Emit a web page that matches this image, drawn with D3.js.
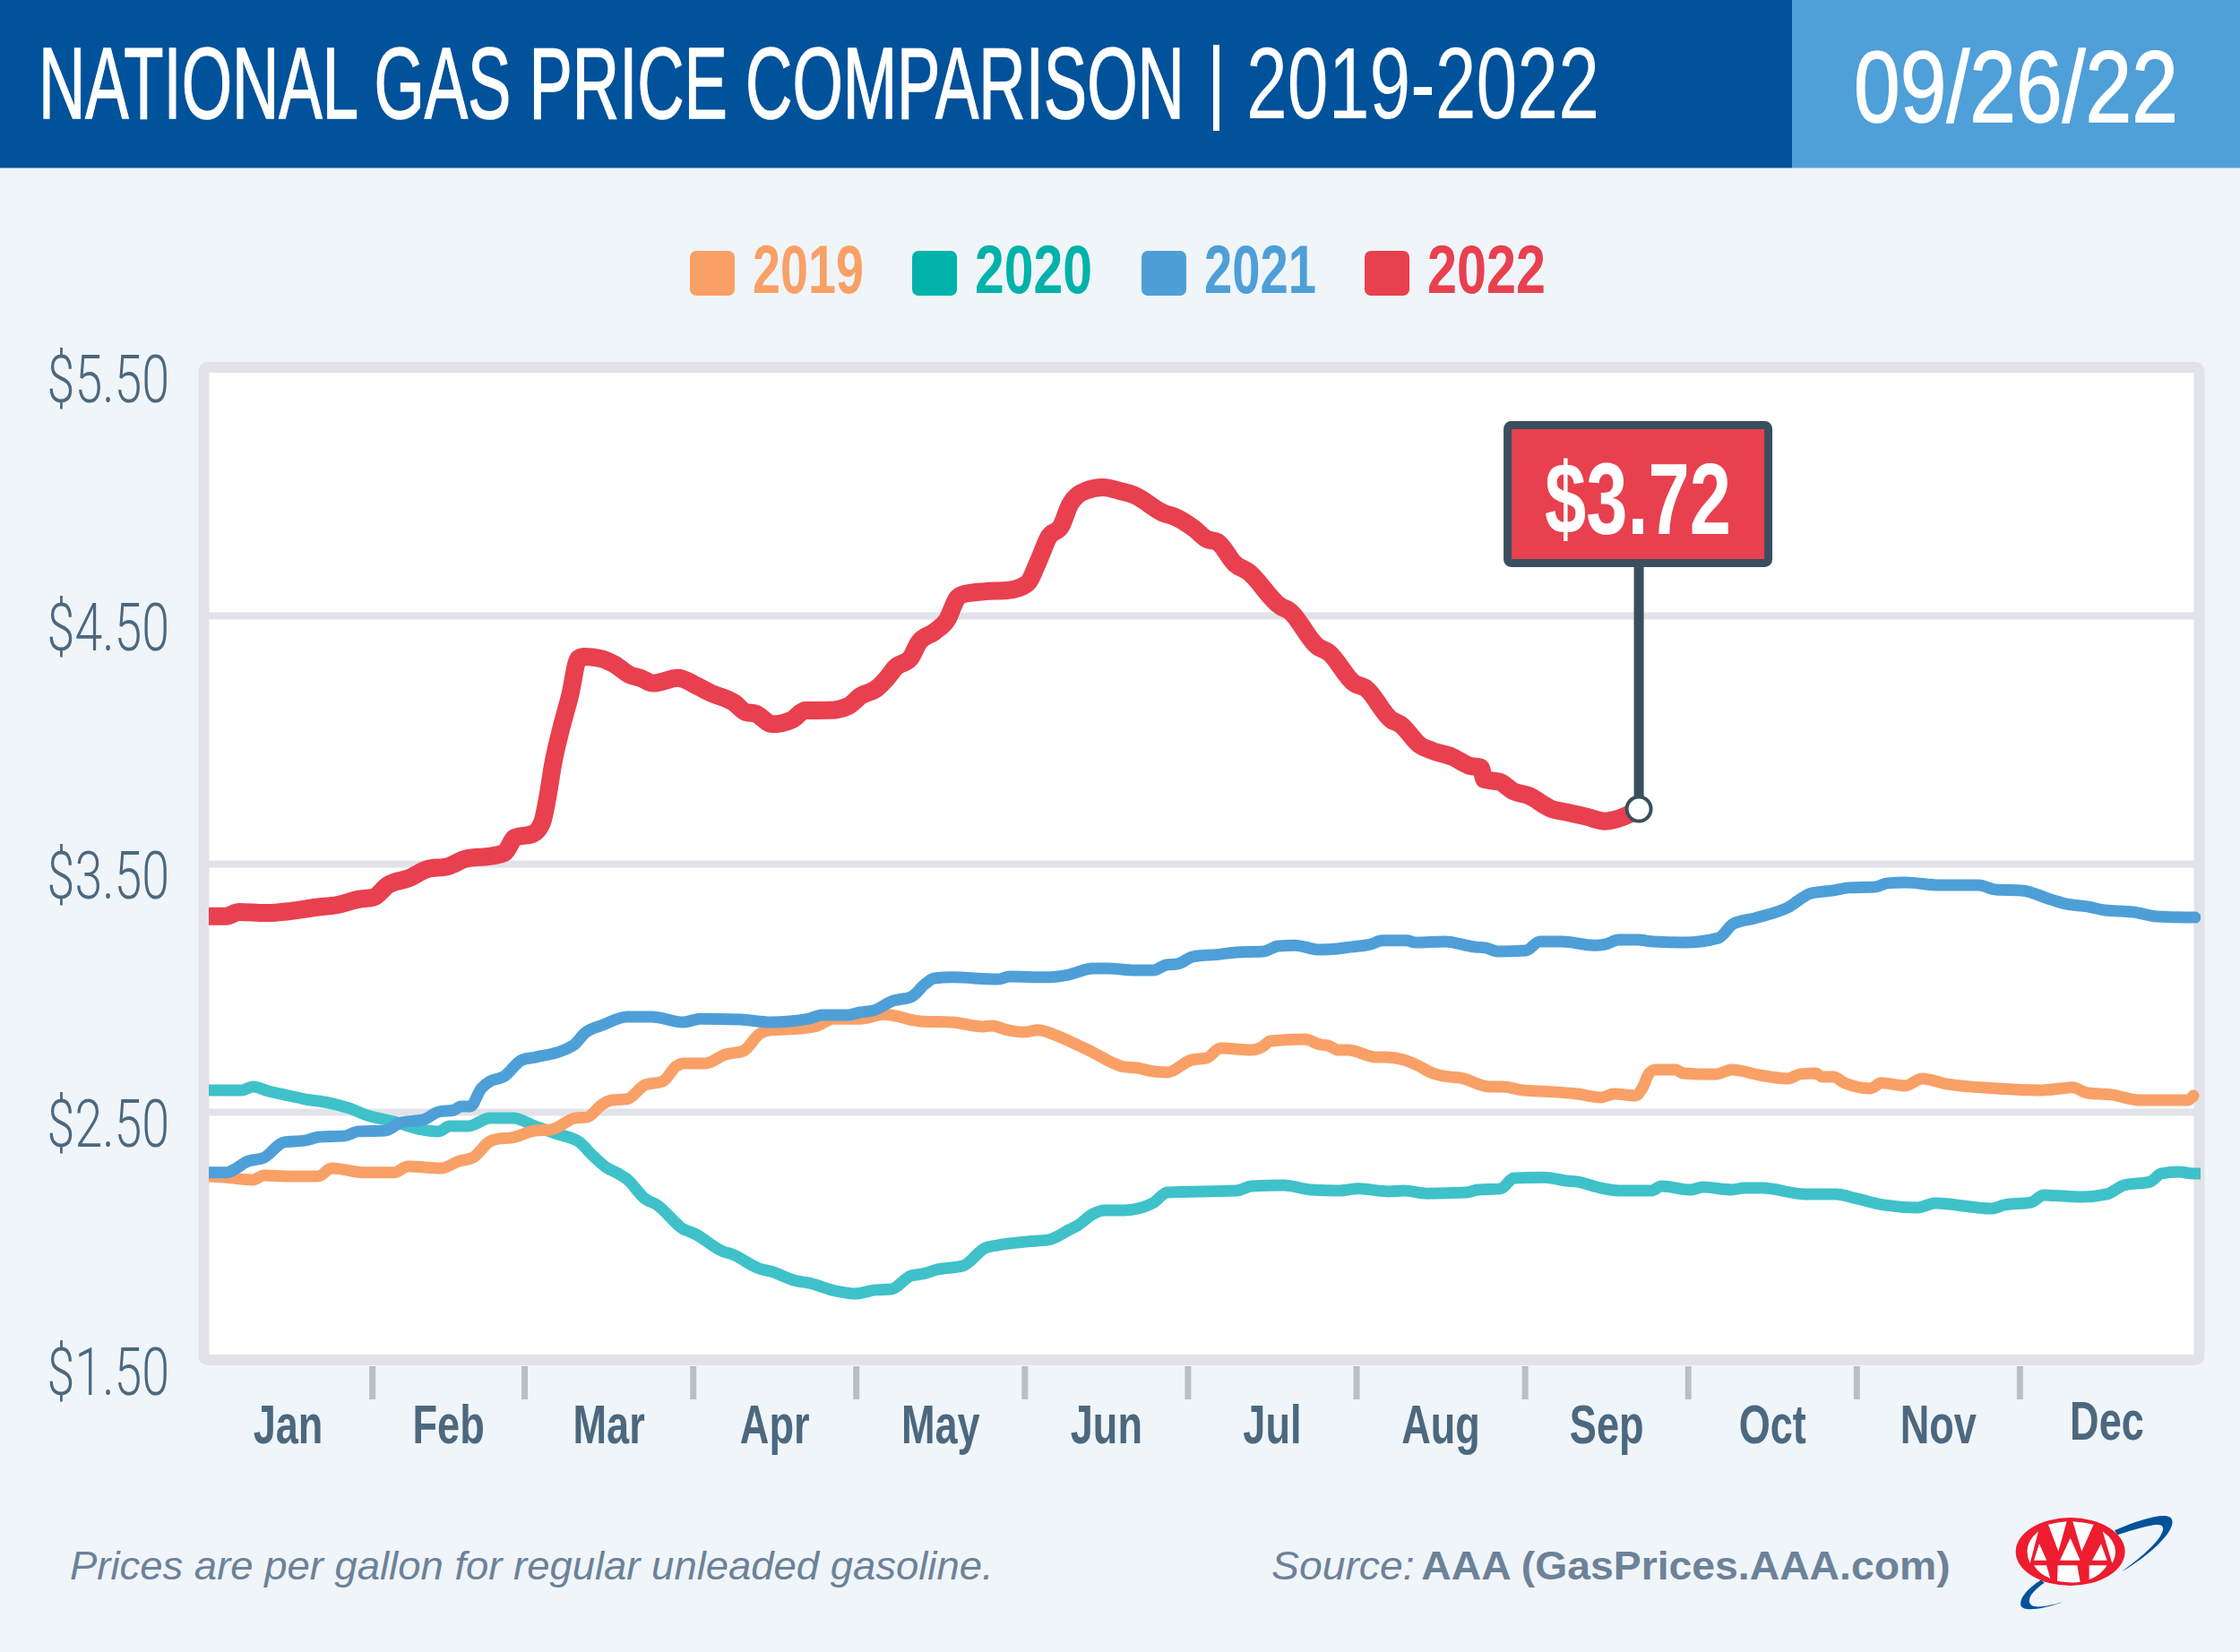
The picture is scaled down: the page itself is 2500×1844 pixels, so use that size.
<!DOCTYPE html>
<html>
<head>
<meta charset="utf-8">
<title>National Gas Price Comparison</title>
<script src="https://cdn.jsdelivr.net/npm/d3@7"></script>
<style>
  html, body { margin: 0; padding: 0; background: #f0f5f9; }
  svg { display: block; }
</style>
</head>
<body>
<div id="chart"></div>
<script>
// values: day of year, price per gallon
const days2019 = [1,3.8,9.1,11.2,15.8,21.1,23.6,29.7,35.1,37.6,43.8,47,49.6,52.7,54.5,56.5,61,63.9,68.5,70.5,73.5,75.1,77.9,81.2,84.5,87,88.3,92.3,96,99.3,102.3,104.3,110,113,115.8,120.8,125.2,131.8,137.7,143.3,145.1,147.4,150.9,153.4,156.5,160.3,163.1,165.2,169.4,171.8,173.8,177.3,181.7,184.5,187.1,192.8,194.9,196.2,202.6,205.3,206.9,208.6,210.5,215.8,217.5,220.8,223.2,226.2,229,231.1,236.6,238.9,242.7,245.8,252.7,257,259.5,263.4,264.6,265.9,267.1,270.7,272.2,275,278.3,281.1,286.2,291.4,293.7,296.5,297.7,299.8,301.8,306.6,308.6,313,316.1,320.6,329.7,337.7,341.7,343.7,346.5,350.9,356,365,366]
const prices2019 = [2.24,2.236,2.226,2.244,2.24,2.24,2.273,2.255,2.255,2.28,2.273,2.301,2.316,2.381,2.392,2.395,2.424,2.428,2.475,2.478,2.532,2.547,2.551,2.608,2.623,2.684,2.695,2.695,2.731,2.745,2.814,2.829,2.836,2.847,2.875,2.875,2.893,2.865,2.861,2.843,2.847,2.832,2.821,2.829,2.811,2.774,2.745,2.72,2.681,2.677,2.666,2.659,2.709,2.717,2.756,2.749,2.764,2.785,2.792,2.771,2.767,2.749,2.749,2.72,2.72,2.709,2.688,2.655,2.641,2.637,2.601,2.601,2.587,2.583,2.572,2.558,2.572,2.565,2.594,2.655,2.67,2.67,2.655,2.652,2.652,2.67,2.648,2.634,2.652,2.655,2.641,2.641,2.616,2.594,2.616,2.605,2.634,2.612,2.594,2.587,2.594,2.598,2.576,2.569,2.547,2.547,2.565]

const days2020 = [1,7.1,9.1,12,15.7,18.6,23.1,26.9,29.7,35.1,39.5,43.3,45.3,48.8,52.7,57,61,64.7,69.2,71.3,74.1,76.3,77.9,81.2,83.4,88.3,90.3,95.6,97.2,102.3,104.3,109.2,111.4,116.3,119.9,123.6,126.5,130.1,132.3,135.1,139.7,143.8,146,151.6,155.4,159.1,160.8,163.6,165.7,169.4,174.6,177.3,190,192.8,198.7,203.6,208.6,212.5,218,220.8,225,232.3,234.4,238.6,241,246.6,250.6,252.7,257,261,266.2,268.2,273.5,275.8,281.1,283.4,286.7,294.6,300.2,304.1,308.9,315.3,318.5,328.8,331.3,336.1,338.5,345.6,350.1,353.2,358,360.1,363.3,366,367.2]
const prices2020 = [2.587,2.587,2.601,2.583,2.565,2.551,2.536,2.514,2.489,2.46,2.431,2.421,2.442,2.442,2.475,2.475,2.442,2.413,2.377,2.33,2.276,2.251,2.229,2.15,2.125,2.027,2.009,1.937,1.926,1.868,1.857,1.818,1.81,1.778,1.767,1.782,1.785,1.839,1.847,1.865,1.879,1.951,1.962,1.977,1.984,2.023,2.042,2.088,2.103,2.103,2.132,2.175,2.182,2.2,2.204,2.186,2.182,2.19,2.179,2.182,2.171,2.175,2.186,2.19,2.233,2.236,2.222,2.218,2.193,2.182,2.182,2.2,2.186,2.197,2.186,2.193,2.193,2.168,2.168,2.15,2.125,2.114,2.132,2.11,2.125,2.135,2.164,2.157,2.168,2.204,2.218,2.251,2.258,2.251,2.251]

const days2021 = [1,4.3,5.8,7.9,11.2,14.8,18.6,21.4,26,28.5,33.4,36.4,40.4,43.3,46.1,47.4,49.1,51.1,52.7,55.2,58.6,61.1,68,70.2,73.5,77.9,82.4,88.3,91.4,98.8,104.3,111.4,113.7,118.6,120.8,123.2,126.9,130.1,132.8,134.4,137.7,146,148.3,154.9,159.1,163.6,166.4,171.3,174.6,177.1,179.2,182,187.1,190,194.9,197.7,200.7,205.3,208.6,210.9,214.7,216.8,221.3,222.9,228.3,233.9,235.7,238.2,243.2,245.8,249.9,255.8,257.8,260.3,263.8,266.6,272.2,278.6,281.4,285.3,291.4,295.7,299.8,302.6,307.4,309.7,313,319.3,326.5,329.7,334.4,339.7,342.5,346.5,349.7,354.9,359.3,365,366.3]
const prices2021 = [2.255,2.255,2.269,2.298,2.316,2.377,2.384,2.399,2.403,2.421,2.424,2.457,2.468,2.5,2.507,2.522,2.522,2.594,2.623,2.641,2.709,2.72,2.767,2.818,2.85,2.883,2.883,2.861,2.875,2.872,2.861,2.875,2.89,2.89,2.901,2.908,2.948,2.962,3.016,3.038,3.042,3.034,3.045,3.042,3.052,3.078,3.078,3.07,3.07,3.092,3.096,3.125,3.135,3.143,3.146,3.168,3.171,3.153,3.157,3.164,3.175,3.19,3.19,3.182,3.186,3.164,3.161,3.146,3.15,3.186,3.186,3.171,3.175,3.193,3.193,3.186,3.182,3.2,3.258,3.28,3.323,3.381,3.392,3.403,3.406,3.421,3.424,3.413,3.413,3.395,3.392,3.356,3.338,3.327,3.312,3.305,3.287,3.283,3.283]

const days2022 = [1,4.1,6.6,11.5,16.1,20.8,24.7,28.5,31.3,33.9,37.9,41.2,45,48.3,53.4,55.4,57.3,60.6,62.3,63.3,64.3,65.8,67.4,69,70,73,75.6,78.3,80.5,82.7,87.3,90.6,93.2,97.7,99.7,101.6,104.6,108.2,110.7,115.3,118.6,120.9,123.7,125.7,127.3,130,131.6,134.5,136.8,138.7,140,143.8,147.8,151.4,153.8,155.4,157.8,159.4,162.2,165.4,168.5,171.3,176.6,178.6,182.2,184.5,186.5,189.8,192.1,198.1,199.7,204.9,206.9,211.7,213.7,218.5,220.1,223.7,226,229.7,232.9,234.9,235.6,238.4,240.9,243.7,248,250.8,254.4,257.7,261.2,264]
const prices2022 = [3.288,3.288,3.305,3.301,3.309,3.324,3.334,3.356,3.364,3.413,3.442,3.478,3.489,3.52,3.532,3.544,3.605,3.62,3.666,3.767,3.901,4.045,4.175,4.327,4.334,4.327,4.303,4.262,4.247,4.227,4.248,4.218,4.189,4.147,4.111,4.104,4.062,4.079,4.117,4.118,4.135,4.176,4.204,4.247,4.291,4.327,4.392,4.435,4.483,4.572,4.587,4.597,4.601,4.627,4.731,4.814,4.862,4.948,5.002,5.016,5.002,4.984,4.912,4.898,4.85,4.808,4.796,4.706,4.677,4.537,4.519,4.375,4.352,4.226,4.208,4.079,4.062,3.978,3.955,3.93,3.894,3.887,3.839,3.829,3.792,3.774,3.72,3.707,3.689,3.671,3.689,3.72]

const priceTicks = [1.5, 2.5, 3.5, 4.5, 5.5]
const gridPrices = [2.5, 3.5, 4.5]
const months = ["Jan", "Feb", "Mar", "Apr", "May", "Jun", "Jul", "Aug", "Sep", "Oct", "Nov", "Dec"]
const monthEnds = [31, 59, 90, 120, 151, 181, 212, 243, 273, 304, 334]
const monthMids = [15.5, 45, 74.5, 105, 135.5, 166, 196.5, 227.5, 258, 288.5, 319, 350]
const years = ["2019", "2020", "2021", "2022"]
const currentLabel = "$3.72"

const width = 2500
const height = 1844
const sans = "'Liberation Sans', Arial, sans-serif"
const slate = "#4c687f"
const callout = "#3a4f5e"
const frameColor = "#e2e3e8"

const x = d3.scaleLinear().domain([0, 365]).range([227, 2442])
const y = d3.scaleLinear().domain([1.5, 5.5]).range([1518, 410])

const svg = d3.select("#chart").append("svg")
  .attr("width", width)
  .attr("height", height)
  .style("background", "#f0f5f9")

// no condensed face is installed, so squeeze real text sideways
function fit(sel, left, w) {
  sel.each(function () {
    const k = w / this.getComputedTextLength()
    d3.select(this).attr("transform", `translate(${left},0) scale(${k},1)`)
  })
}
function squeeze(sel, k) {
  sel.attr("transform", `scale(${k},1)`)
}

// header
svg.append("rect").attr("width", 2000).attr("height", 187.5).attr("fill", "#00529b")
svg.append("rect").attr("x", 2000).attr("width", 500).attr("height", 187.5).attr("fill", "#4f9fd9")

svg.append("text").text("NATIONAL GAS PRICE COMPARISON")
  .attr("y", 132)
  .attr("font-family", sans).attr("font-size", 113)
  .attr("fill", "#fff").attr("stroke", "#fff").attr("stroke-width", 1.5)
  .call(fit, 43, 1279)
svg.append("rect").attr("x", 1354).attr("y", 50).attr("width", 7).attr("height", 96).attr("fill", "#fff")
svg.append("text").text("2019-2022")
  .attr("y", 132)
  .attr("font-family", sans).attr("font-size", 113).attr("fill", "#fff")
  .call(fit, 1391, 394)
svg.append("text").text("09/26/22")
  .attr("y", 136)
  .attr("font-family", sans).attr("font-size", 114)
  .attr("fill", "#fff").attr("stroke", "#fff").attr("stroke-width", 1.5)
  .call(fit, 2069, 362)

// legend
const lineColor = d3.scaleOrdinal().domain(years).range(["#f9a066", "#3fc1c9", "#4e9fd8", "#e8404f"])
const legendColor = d3.scaleOrdinal().domain(years).range(["#f9a066", "#00b2a9", "#4e9fd8", "#e8404f"])
const legendX = d3.scaleOrdinal().domain(years).range([770, 1018, 1274, 1523])
const legendW = d3.scaleOrdinal().domain(years).range([124, 131, 125, 132])

const legend = svg.append("g").selectAll("g").data(years).join("g")
legend.append("rect")
  .attr("x", d => legendX(d)).attr("y", 280)
  .attr("width", 50).attr("height", 50).attr("rx", 7)
  .attr("fill", d => legendColor(d))
legend.append("text").text(d => d)
  .attr("y", 327)
  .attr("font-family", sans).attr("font-weight", 700).attr("font-size", 76)
  .attr("fill", d => legendColor(d))
  .each(function (d) { d3.select(this).call(fit, legendX(d) + 70, legendW(d)) })

// plot frame
svg.append("rect")
  .attr("x", 227.5).attr("y", 410).attr("width", 2227).attr("height", 1108).attr("rx", 4)
  .attr("fill", "#fff").attr("stroke", frameColor).attr("stroke-width", 12)

const grid = svg.append("g").attr("transform", "translate(233,0)")
  .call(d3.axisRight(y).tickValues(gridPrices).tickSize(2216).tickFormat(""))
grid.select(".domain").remove()
grid.selectAll("line").attr("stroke", frameColor).attr("stroke-width", 8)

const yAxis = svg.append("g").attr("transform", "translate(189,0)")
  .call(d3.axisLeft(y).tickValues(priceTicks).tickSize(0).tickPadding(0).tickFormat(d3.format("$.2f")))
yAxis.select(".domain").remove()
yAxis.selectAll("text")
  .attr("dy", 38)
  .attr("font-family", "Roboto, " + sans).attr("font-weight", 300).attr("font-size", 74).attr("fill", slate)
  .call(squeeze, 0.75)

const tickAxis = svg.append("g").attr("transform", "translate(0,1525)")
  .call(d3.axisBottom(x).tickValues(monthEnds).tickSize(37).tickFormat(""))
tickAxis.select(".domain").remove()
tickAxis.selectAll("line").attr("stroke", "#bbbec3").attr("stroke-width", 7)

const monthAxis = svg.append("g").attr("transform", "translate(0,1611)")
  .call(d3.axisBottom(x).tickValues(monthMids).tickSize(0).tickPadding(0)
    .tickFormat((d, i) => months[i]))
monthAxis.select(".domain").remove()
monthAxis.selectAll("text")
  .attr("y", 0).attr("dy", (d, i) => i === 11 ? -4 : 0)
  .attr("font-family", sans).attr("font-weight", 700).attr("font-size", 61).attr("fill", slate)
  .call(squeeze, 0.74)

// lines
svg.append("clipPath").attr("id", "plot-clip")
  .append("rect").attr("x", 233).attr("y", 400).attr("width", 2223).attr("height", 1120)

const line = d3.line().x(d => x(d[0])).y(d => y(d[1])).curve(d3.curveMonotoneX)
const series = [
  { year: "2020", points: d3.zip(days2020, prices2020), w: 13 },
  { year: "2019", points: d3.zip(days2019, prices2019), w: 13 },
  { year: "2021", points: d3.zip(days2021, prices2021), w: 13 },
  { year: "2022", points: d3.zip(days2022, prices2022), w: 20 }
]
svg.append("g").attr("clip-path", "url(#plot-clip)")
  .selectAll("path").data(series).join("path")
  .attr("d", d => line(d.points))
  .attr("fill", "none")
  .attr("stroke", d => lineColor(d.year))
  .attr("stroke-width", d => d.w)
  .attr("stroke-linejoin", "round")
  .attr("stroke-linecap", "round")

// current price flag
const lastDay = days2022[days2022.length - 1]
const lastPrice = prices2022[prices2022.length - 1]
const flagX = x(lastDay)
const flag = svg.append("g")
flag.append("line")
  .attr("x1", flagX).attr("x2", flagX).attr("y1", 630).attr("y2", y(lastPrice))
  .attr("stroke", callout).attr("stroke-width", 11)
flag.append("rect")
  .attr("x", flagX - 146.5).attr("y", 474.5).attr("width", 291).attr("height", 154).attr("rx", 4)
  .attr("fill", "#e8404f").attr("stroke", callout).attr("stroke-width", 9)
flag.append("text").text(currentLabel)
  .attr("y", 596)
  .attr("font-family", sans).attr("font-weight", 700).attr("font-size", 114).attr("fill", "#fff")
  .call(fit, flagX - 105, 208)
flag.append("circle")
  .attr("cx", flagX).attr("cy", y(lastPrice)).attr("r", 13.5)
  .attr("fill", "#fff").attr("stroke", callout).attr("stroke-width", 4)

// footer
svg.append("text").text("Prices are per gallon for regular unleaded gasoline.")
  .attr("y", 1763)
  .attr("font-family", sans).attr("font-style", "italic")
  .attr("font-size", 44).attr("fill", "#6c8299")
  .call(fit, 78, 1031)
const source = svg.append("text")
  .attr("y", 1763)
  .attr("font-family", sans)
  .attr("font-size", 44).attr("fill", "#6c8299")
source.append("tspan").attr("font-style", "italic").text("Source: ")
source.append("tspan").attr("font-weight", 700).attr("dx", -5).text("AAA (GasPrices.AAA.com)")
source.call(fit, 1419, 763)

// AAA logo, drawn in the 3x crop's units
const logo = svg.append("g").attr("transform", "translate(2150,1660) scale(0.3333)")
logo.append("path")
  .attr("d", "M630,145 C700,115 770,92 805,97 C830,102 830,125 805,160 C770,205 710,250 655,283 C710,240 775,190 790,150 C800,125 780,122 745,130 C710,138 670,150 640,160 Z M385,310 C345,335 310,370 316,395 C322,415 370,415 458,385 C400,400 350,410 345,385 C342,365 360,345 395,320 Z")
  .attr("fill", "#00529b")
logo.append("ellipse").attr("cx", 482).attr("cy", 216).attr("rx", 183).attr("ry", 114).attr("fill", "#ed1c2e")
logo.append("path")
  .attr("d", "M375,148 Q318,195 347,255 Z M378,190 L360,245 L403,245 Z M408,125 Q440,117 470,115 L442,215 Z M490,115 Q525,117 560,125 L520,215 Z M482,170 L447,245 L515,245 Z M585,190 L555,245 L605,245 Z M590,148 Q655,195 622,255 Z M360,262 L402,262 L415,305 Q380,295 360,262 Z M440,262 L505,262 L515,318 Q480,322 438,314 Z M545,262 L605,262 Q585,295 545,310 Z")
  .attr("fill", "#fff")
</script>
</body>
</html>
